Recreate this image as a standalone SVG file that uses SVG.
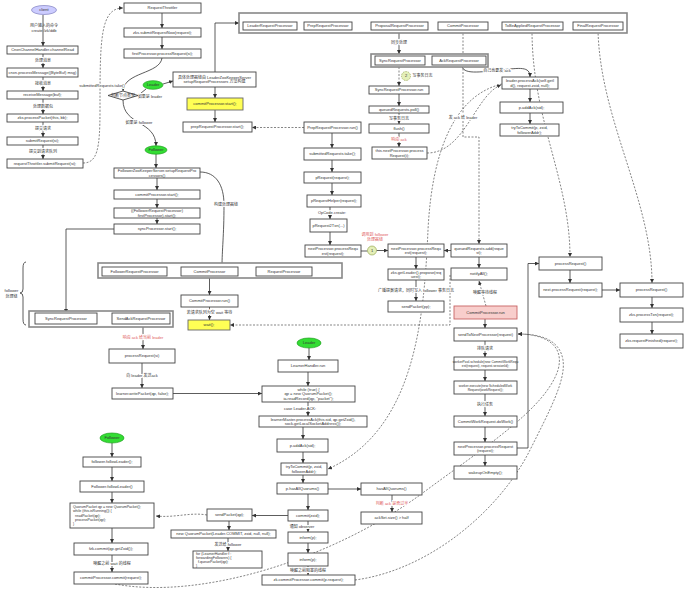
<svg xmlns="http://www.w3.org/2000/svg" width="692" height="596" viewBox="0 0 692 596">
<defs>
<marker id="a" viewBox="0 0 6 6" refX="6" refY="3" markerWidth="4" markerHeight="4" orient="auto" markerUnits="userSpaceOnUse"><path d="M0,0 L6,3 L0,6 z" fill="#333"/></marker>
<style>
.b{fill:#fff;stroke:#444;stroke-width:.9}
.o{fill:#fff;stroke:#888;stroke-width:1.6}
.y{fill:#ffff55;stroke:#666;stroke-width:.9}
.p{fill:#f8cecc;stroke:#c86464;stroke-width:.9}
.g{fill:#33dd33;stroke:#22a022;stroke-width:.7}
.v{fill:#ccccff;stroke:#7f7fbf;stroke-width:.7}
.k{fill:#e4efb8;stroke:#8a9a40;stroke-width:.6}
text{font-family:"Liberation Sans","Noto Sans CJK SC",sans-serif;font-size:4px;fill:#333;text-anchor:middle}
.s{font-size:3.3px}
.m{font-size:3.6px}
.lt{text-anchor:start}
.h{paint-order:stroke;stroke:#fff;stroke-width:2px;stroke-linejoin:round}
.r{fill:#e05a5a}
.c{fill:none;stroke:#333;stroke-width:.8;marker-end:url(#a)}
.n{fill:none;stroke:#333;stroke-width:.8}
.d{fill:none;stroke:#333;stroke-width:.6;stroke-dasharray:2 1.5;marker-end:url(#a)}
.dn{fill:none;stroke:#333;stroke-width:.6;stroke-dasharray:2 1.5}
</style>
</defs>
<rect width="692" height="596" fill="#fff"/>

<g id="connectors">
<path class="c" d="M43,15 V46"/>
<path class="c" d="M43,54 V68"/>
<path class="c" d="M43,77 V91"/>
<path class="c" d="M43,99 V114"/>
<path class="c" d="M43,122 V137"/>
<path class="c" d="M43,145 V159"/>
<path class="d" d="M83,163 C97,163 100,150 100,110 C100,40 100,8 123,8"/>
<path class="c" d="M162,13 V28"/>
<path class="c" d="M162,37 V49"/>
<path class="c" d="M162,58 C160,74 124,72 123,91"/>
<path class="n" d="M138,95.5 L146,89"/>
<path class="c" d="M163,84 L173,81"/>
<path class="c" d="M123,100 C123,126 156,120 156,146"/>
<path class="c" d="M156,154 V168"/>
<path class="c" d="M215,72 V23 H239"/>
<path class="c" d="M215,87 V98"/>
<path class="c" d="M215,110 V122"/>
<path class="d" d="M304,127.5 H252"/>
<path class="c" d="M157,178 V190"/>
<path class="c" d="M157,199 V208"/>
<path class="c" d="M157,218 V224"/>
<path class="c" d="M114,229 H66 V313"/>
<path class="c" d="M200,172 C216,172 224,185 224,205 C224,235 222,250 222,267"/>
<path class="c" d="M167,271.5 H181"/>
<path class="c" d="M238,271.5 H256"/>
<path class="c" d="M209.5,276 V295"/>
<path class="c" d="M209.5,307 V320"/>
<path class="d" d="M450,275 V325 H230"/>
<path class="c" d="M97,318.5 H112"/>
<path class="c" d="M143,327 V349"/>
<path class="c" d="M142,363 V388"/>
<path class="c" d="M173,393.5 H262"/>
<path class="c" d="M309,348 V360"/>
<path class="c" d="M308,372 V386"/>
<path class="c" d="M308,402 V416"/>
<path class="c" d="M303,427 V439"/>
<path class="c" d="M303,452 V463"/>
<path class="c" d="M303,475 V483"/>
<path class="c" d="M328,489 H361"/>
<path class="c" d="M392,495 V512"/>
<path class="c" d="M308,494 V510"/>
<path class="c" d="M288,515.5 H252"/>
<path class="c" d="M229,521 V530"/>
<path class="c" d="M228,538 V551"/>
<path class="c" d="M308,521 V532"/>
<path class="c" d="M308,543 V553"/>
<path class="c" d="M308,566 V575"/>
<path class="d" d="M207,515 C190,512 175,518 156,516"/>
<path class="c" d="M112,443 V457"/>
<path class="c" d="M112,467 V481"/>
<path class="c" d="M112,492 V503"/>
<path class="c" d="M112,528 V543"/>
<path class="c" d="M112,555 V572"/>
<path class="d" d="M115,584 C200,600 330,560 420,495 C480,450 545,410 558,370 C565,345 545,334 518,334"/>
<path class="d" d="M355,580 C430,570 500,510 530,450 C550,410 566,380 563,360 C560,342 545,334 518,334"/>
<path class="c" d="M297,26 H304"/>
<path class="c" d="M352,26 H371"/>
<path class="c" d="M428,26 H438"/>
<path class="c" d="M488,26 H502"/>
<path class="c" d="M563,26 H573"/>
<path class="c" d="M399,30 V54"/>
<path class="c" d="M425,60.5 H432"/>
<path class="d" d="M399,67 V86"/>
<path class="c" d="M399,94 V106"/>
<path class="c" d="M399,113 V124"/>
<path class="c" d="M399,133 V147"/>
<path class="d" d="M427,153 C465,153 475,95 501,85"/>
<path class="d" d="M502,84 C455,95 432,150 428,230 C424,320 415,430 328,469"/>
<path class="c" d="M462,65 C462,75 480,72 500,70 C520,68 530,66 530,77"/>
<path class="c" d="M530,89 V102"/>
<path class="c" d="M530,113 V124"/>
<path class="d" d="M463,30 V137 H479 V244"/>
<path class="c" d="M332,133 V148"/>
<path class="c" d="M332,160 V172"/>
<path class="c" d="M332,183 V195"/>
<path class="c" d="M330,207 V219"/>
<path class="c" d="M330,232 V245"/>
<path class="n" d="M361,251 H367.5"/>
<path class="c" d="M376.5,250.5 H388"/>
<path class="c" d="M451,250.5 H444"/>
<path class="c" d="M416,257 V269"/>
<path class="c" d="M416,280 V301"/>
<path class="c" d="M479,257 V268"/>
<path class="d" d="M486,306 L479,281"/>
<path class="c" d="M485,319 V328"/>
<path class="c" d="M485,341 V357"/>
<path class="c" d="M485,370 V381"/>
<path class="c" d="M485,394 V416"/>
<path class="c" d="M485,427 V442"/>
<path class="c" d="M485,455 V466"/>
<path class="c" d="M517,448 H528 V263.5 H539"/>
<path class="d" d="M532,30 C532,120 570,180 570,257"/>
<path class="d" d="M598,30 C600,120 652,200 652,283"/>
<path class="c" d="M570,270 V283"/>
<path class="c" d="M602,290 H620"/>
<path class="c" d="M652,297 V308"/>
<path class="c" d="M652,322 V334"/>
</g>

<g id="labels">
<text x="44" y="27">用户输入的命令</text>
<text x="44" y="32">create /zk/ddb</text>
<text class="h" x="43" y="62.4">处理消息</text>
<text class="h" x="43" y="85.4">接收消息</text>
<text class="h" x="43" y="107.9">处理数据包</text>
<text class="h" x="43" y="130.4">提交请求</text>
<text class="h" x="43" y="153.4">提交到请求队列</text>
<text class="h" x="102" y="87.4">submittedRequests.take()</text>
<text class="h" x="150" y="98.4">如果是 leader</text>
<text class="h" x="139" y="124.4">如果是 follower</text>
<text class="h" x="226" y="206.4">构建处理器链</text>
<text class="h" x="209.5" y="314.4">若请求队列为空 wait 等待</text>
<text x="11.5" y="292">follower</text>
<text x="11.5" y="297.5">处理链</text>
<text class="h r" x="143" y="338.9">响应 ack 给当前 leader</text>
<text class="h" x="142" y="377.4">向 leader 发送ack</text>
<text class="h" x="300" y="410.4">case Leader.ACK:</text>
<text class="h r" x="392" y="505.4">判断 ack 是否过半</text>
<text class="h" x="228" y="545.9">发送给 follower</text>
<text class="h" x="302" y="527.9">通知 observer</text>
<text class="h" x="308" y="571.9">唤醒之前阻塞的线程</text>
<text class="h" x="112" y="564.9">唤醒之前 wait 的线程</text>
<text x="330" y="18.9">处理器链</text>
<text class="h" x="399" y="44.4">同步处理</text>
<text class="lt" x="412.5" y="77.4">写事务日志</text>
<text class="h" x="399" y="119.9">写事务日志</text>
<text class="h r" x="399" y="141.4">响应 ack</text>
<text class="h" x="497" y="72.4">自己也要发 ack</text>
<text class="h" x="463" y="119.4">发 ack 给 leader</text>
<text class="h" x="332" y="214.4">OpCode.create:</text>
<text class="r" x="375" y="236.4">调用到 follower</text>
<text class="r" x="375" y="240.8">处理器链</text>
<text class="h" x="416" y="292.4">广播提案请求，同时写入 follower 事务日志</text>
<text class="h" x="485" y="294.4">唤醒等待线程</text>
<text class="h" x="485" y="350.4">排队请求</text>
<text class="h" x="485" y="406.4">执行任务</text>
</g>

<g id="client"><ellipse class="v" cx="44" cy="10" rx="12.5" ry="4.5"/><text x="44" y="11.4">client</text></g>
<g id="n1"><rect class="b" x="7" y="46" width="71" height="8"/><text x="42.5" y="51.4">CnxnChannelHandler.channelRead</text></g>
<g id="n2"><rect class="b" x="7" y="68" width="71" height="9"/><text x="42.5" y="73.9">cnxn.processMessage((ByteBuf) msg)</text></g>
<g id="n3"><rect class="b" x="7" y="91" width="71" height="8"/><text x="42.5" y="96.4">receiveMessage(buf);</text></g>
<g id="n4"><rect class="b" x="7" y="114" width="71" height="8"/><text x="42.5" y="119.4">zks.processPacket(this, bb);</text></g>
<g id="n5"><rect class="b" x="7" y="137" width="71" height="8"/><text x="42.5" y="142.4">submitRequest(si);</text></g>
<g id="n6"><rect class="b" x="7" y="159" width="76" height="9"/><text x="45" y="164.9">requestThrottler.submitRequest(si);</text></g>

<g id="throttler"><rect class="b" x="124" y="3" width="77" height="10"/><text x="162.5" y="9.4">RequestThrottler</text></g>
<g id="submitNow"><rect class="b" x="124" y="28" width="77" height="9"/><text x="162.5" y="33.9">zks.submitRequestNow(request);</text></g>
<g id="firstProc"><rect class="b" x="124" y="49" width="77" height="9"/><text x="162.5" y="54.9">firstProcessor.processRequest(si);</text></g>
<g id="diamond"><polygon class="b" points="108,95.5 123,91 138,95.5 123,100"/><text x="123" y="96.9">判断节点类型</text></g>
<g id="leaderTop"><ellipse class="g" cx="153" cy="85" rx="10" ry="4.3"/><text x="153" y="86.4">Leader</text></g>
<g id="leaderSetup"><rect class="b" x="173" y="72" width="83" height="15"/><text x="214.5" y="78.8">具体处理器链由 LeaderZooKeeperServer</text><text x="214.5" y="83">setupRequestProcessors 方法构建</text></g>
<g id="commitStart"><rect class="y" x="187" y="98" width="56" height="12"/><text x="215" y="105.4">commitProcessor.start();</text></g>
<g id="prepStart"><rect class="b" x="183" y="122" width="69" height="10"/><text x="217.5" y="128.4">prepRequestProcessor.start();</text></g>

<g id="followerTop"><ellipse class="g" cx="156" cy="150" rx="11" ry="4.2"/><text x="156" y="151.4">Follower</text></g>
<g id="fSetup"><rect class="b" x="114" y="168" width="86" height="10"/><text x="157" y="172.3">FollowerZooKeeperServer.setupRequestPro</text><text x="157" y="176.5">cessors()</text></g>
<g id="fCommitStart"><rect class="b" x="114" y="190" width="86" height="9"/><text x="157" y="195.9">commitProcessor.start();</text></g>
<g id="fFirstStart"><rect class="b" x="114" y="208" width="86" height="10"/><text x="157" y="212.3">((FollowerRequestProcessor)</text><text x="157" y="216.5">firstProcessor).start();</text></g>
<g id="fSyncStart"><rect class="b" x="114" y="224" width="86" height="10"/><text x="157" y="230.4">syncProcessor.start();</text></g>

<g id="fChain"><rect class="o" x="98" y="263" width="244" height="15"/>
<rect class="b" x="102" y="267" width="65" height="9"/><text x="134.5" y="272.9">FollowerRequestProcessor</text>
<rect class="b" x="181" y="267" width="57" height="9"/><text x="209.5" y="272.9">CommitProcessor</text>
<rect class="b" x="256" y="267" width="56" height="9"/><text x="284" y="272.9">RequestProcessor</text></g>
<g id="fCommitRun"><rect class="b" x="181" y="295" width="57" height="12"/><text x="209.5" y="302.4">CommitProcessor.run()</text></g>
<g id="fWait"><rect class="y" x="188" y="320" width="42" height="10"/><text x="209" y="326.4">wait();</text></g>

<g id="brace"><path class="n" d="M26,262 Q23,262 23,268 L23,289 Q23,293 20,293 Q23,293 23,297 L23,319 Q23,325 26,325"/></g>
<g id="fSyncChain"><rect class="o" x="29" y="311" width="144" height="16"/>
<rect class="b" x="35" y="313" width="62" height="11"/><text x="66" y="319.9">SyncRequestProcessor</text>
<rect class="b" x="112" y="313" width="58" height="11"/><text x="141" y="319.9">SendAckRequestProcessor</text></g>
<g id="sendAckProc"><rect class="b" x="109" y="349" width="66" height="14"/><text x="142" y="357.4">processRequest(si)</text></g>
<g id="writePacket"><rect class="b" x="112" y="388" width="61" height="11"/><text x="142.5" y="394.9">learner.writePacket(qp, false);</text></g>

<g id="leaderMid"><ellipse class="g" cx="309" cy="343" rx="12" ry="5"/><text x="309" y="344.4">Leader</text></g>
<g id="lhRun"><rect class="b" x="278" y="360" width="60" height="12"/><text x="308" y="367.4">LearnerHandler.run</text></g>
<g id="lhLoop"><rect class="b" x="262" y="386" width="93" height="16"/><text x="308.5" y="391.2">while (true) {</text><text x="308.5" y="395.4">qp = new QuorumPacket();</text><text x="308.5" y="399.6">ia.readRecord(qp, "packet");</text></g>
<g id="processAck"><rect class="b" x="259" y="416" width="108" height="11"/><text x="313" y="420.8">learnerMaster.processAck(this.sid, qp.getZxid(),</text><text x="313" y="425">sock.getLocalSocketAddress());</text></g>
<g id="addAck"><rect class="b" x="277" y="439" width="51" height="13"/><text x="302.5" y="446.9">p.addAck(sid);</text></g>
<g id="tryCommit"><rect class="b" x="281" y="463" width="46" height="12"/><text x="304" y="468.3">tryToCommit(p, zxid,</text><text x="304" y="472.5">followerAddr);</text></g>
<g id="hasQuorum"><rect class="b" x="277" y="483" width="51" height="11"/><text x="302.5" y="489.9">p.hasAllQuorums()</text></g>
<g id="hasQuorum2"><rect class="b" x="361" y="483" width="61" height="12"/><text x="391.5" y="490.4">hasAllQuorums()</text></g>
<g id="half"><rect class="b" x="361" y="512" width="61" height="12"/><text x="391.5" y="519.4">ackSet.size() &gt; half</text></g>
<g id="commitZxid"><rect class="b" x="288" y="510" width="40" height="11"/><text x="308" y="516.9">commit(zxid);</text></g>
<g id="sendPacketL"><rect class="b" x="207" y="509" width="45" height="12"/><text x="229.5" y="516.4">sendPacket(qp);</text></g>
<g id="newQp"><rect class="b" x="171" y="530" width="105" height="8"/><text x="223.5" y="535.4">new QuorumPacket(Leader.COMMIT, zxid, null, null);</text></g>
<g id="forLoop"><rect class="b" x="193" y="551" width="69" height="17"/><text class="m lt" x="196" y="555.2">for (LearnerHandler f :</text><text class="m lt" x="196" y="559.1">forwardingFollowers) {</text><text class="m lt" x="198" y="563">f.queuePacket(qp);</text><text class="m lt" x="196" y="566.9">}</text></g>
<g id="inform"><rect class="b" x="288" y="532" width="40" height="11"/><text x="308" y="538.9">inform(p);</text></g>
<g id="inform2"><rect class="b" x="288" y="553" width="40" height="13"/><text x="308" y="560.9">inform(p);</text></g>
<g id="zkCommit"><rect class="b" x="262" y="575" width="93" height="10"/><text x="308.5" y="581.4">zk.commitProcessor.commit(p.request);</text></g>

<g id="followerBot"><ellipse class="g" cx="112" cy="438" rx="12" ry="5"/><text x="112" y="439.4">Follower</text></g>
<g id="followLeader1"><rect class="b" x="83" y="457" width="58" height="10"/><text x="112" y="463.4">follower.followLeader();</text></g>
<g id="followLeader2"><rect class="b" x="80" y="481" width="64" height="11"/><text x="112" y="487.9">Follower.followLeader()</text></g>
<g id="fLoop"><rect class="b" x="70" y="503" width="84" height="25"/><text class="m lt" x="73" y="507.8">QuorumPacket qp = new QuorumPacket();</text><text class="m lt" x="73" y="512.2">while (this.isRunning()) {</text><text class="m lt" x="75" y="516.6">readPacket(qp);</text><text class="m lt" x="75" y="521">processPacket(qp);</text><text class="m lt" x="73" y="525.4">}</text></g>
<g id="fzkCommit"><rect class="b" x="74" y="543" width="74" height="12"/><text x="111" y="550.4">fzk.commit(qp.getZxid());</text></g>
<g id="fCommit"><rect class="b" x="74" y="572" width="74" height="12"/><text x="111" y="579.4">commitProcessor.commit(request);</text></g>

<g id="lChain"><rect class="o" x="239" y="13" width="388" height="20"/>
<rect class="b" x="243" y="22" width="54" height="8"/><text x="270" y="27.4">LeaderRequestProcessor</text>
<rect class="b" x="304" y="22" width="48" height="8"/><text x="328" y="27.4">PrepRequestProcessor</text>
<rect class="b" x="371" y="22" width="57" height="8"/><text x="399.5" y="27.4">ProposalRequestProcessor</text>
<rect class="b" x="438" y="22" width="50" height="8"/><text x="463" y="27.4">CommitProcessor</text>
<rect class="b" x="502" y="22" width="61" height="8"/><text x="532.5" y="27.4">ToBeAppliedRequestProcessor</text>
<rect class="b" x="573" y="22" width="50" height="8"/><text x="598" y="27.4">FinalRequestProcessor</text></g>
<g id="syncAck"><rect class="o" x="371" y="54" width="117" height="13"/>
<rect class="b" x="375" y="56" width="50" height="9"/><text x="400" y="61.9">SyncRequestProcessor</text>
<rect class="b" x="432" y="56" width="54" height="9"/><text x="459" y="61.9">AckRequestProcessor</text></g>
<g id="c2"><circle class="k" cx="406" cy="76" r="4.5" stroke-dasharray="1.5 1"/><text x="406" y="77.4">2</text></g>
<g id="syncRun"><rect class="b" x="369" y="86" width="60" height="8"/><text x="399" y="91.4">SyncRequestProcessor.run</text></g>
<g id="poll"><rect class="b" x="369" y="106" width="60" height="7"/><text x="399" y="110.9">queuedRequests.poll()</text></g>
<g id="flush"><rect class="b" x="369" y="124" width="60" height="9"/><text x="399" y="129.9">flush()</text></g>
<g id="syncNext"><rect class="b" x="372" y="147" width="55" height="12"/><text x="399.5" y="152.3">this.nextProcessor.process</text><text x="399.5" y="156.5">Request(i);</text></g>
<g id="leaderProcessAck"><rect class="b" x="502" y="77" width="56" height="12"/><text x="530" y="82.3">leader.processAck(self.getI</text><text x="530" y="86.5">d(), request.zxid, null);</text></g>
<g id="addAck2"><rect class="b" x="500" y="102" width="63" height="11"/><text x="531.5" y="108.9">p.addAck(sid);</text></g>
<g id="tryCommit2"><rect class="b" x="500" y="124" width="59" height="12"/><text x="529.5" y="129.3">tryToCommit(p, zxid,</text><text x="529.5" y="133.5">followerAddr);</text></g>

<g id="prepRun"><rect class="b" x="304" y="122" width="57" height="11"/><text x="332.5" y="128.9">PrepRequestProcessor.run()</text></g>
<g id="take"><rect class="b" x="304" y="148" width="57" height="12"/><text x="332.5" y="155.4">submittedRequests.take();</text></g>
<g id="pRequest"><rect class="b" x="304" y="172" width="57" height="11"/><text x="332.5" y="178.9">pRequest(request);</text></g>
<g id="pHelper"><rect class="b" x="307" y="195" width="54" height="12"/><text x="334" y="202.4">pRequestHelper(request);</text></g>
<g id="p2txn"><rect class="b" x="310" y="219" width="37" height="13"/><text x="328.5" y="226.9">pRequest2Txn(...)</text></g>
<g id="prepNext"><rect class="b" x="305" y="245" width="56" height="12"/><text x="333" y="250.3">nextProcessor.processRequ</text><text x="333" y="254.5">est(request);</text></g>
<g id="c1"><circle class="k" cx="372" cy="250.5" r="4.5"/><text x="372" y="251.9">1</text></g>
<g id="propNext"><rect class="b" x="388" y="244" width="56" height="13"/><text x="416" y="249.8">nextProcessor.processRequ</text><text x="416" y="254">est(request);</text></g>
<g id="propose"><rect class="b" x="388" y="269" width="56" height="11"/><text x="416" y="273.8">zks.getLeader().propose(req</text><text x="416" y="278">uest);</text></g>
<g id="sendPacketP"><rect class="b" x="388" y="301" width="56" height="11"/><text x="416" y="307.9">sendPacket(pp);</text></g>

<g id="queuedAdd"><rect class="b" x="451" y="244" width="56" height="13"/><text x="479" y="249.8">queuedRequests.add(reque</text><text x="479" y="254">st);</text></g>
<g id="notify"><rect class="b" x="451" y="268" width="56" height="12"/><text x="479" y="275.4">notifyAll();</text></g>
<g id="commitRun"><rect class="p" x="454" y="306" width="63" height="13"/><text x="485.5" y="313.9">CommitProcessor.run</text></g>
<g id="sendNext"><rect class="b" x="454" y="328" width="63" height="13"/><text x="485.5" y="335.9">sendToNextProcessor(request)</text></g>
<g id="schedule"><rect class="b" x="454" y="357" width="63" height="13"/><text class="s" x="485.5" y="362.9">workerPool.schedule(new CommitWorkRequ</text><text class="s" x="485.5" y="366.7">est(request), request.sessionId);</text></g>
<g id="execute"><rect class="b" x="454" y="381" width="63" height="13"/><text class="s" x="485.5" y="386.9">worker.execute(new ScheduledWork</text><text class="s" x="485.5" y="390.7">Request(workRequest));</text></g>
<g id="doWork"><rect class="b" x="454" y="416" width="63" height="11"/><text x="485.5" y="422.9">CommitWorkRequest.doWork()</text></g>
<g id="cNext"><rect class="b" x="454" y="442" width="63" height="13"/><text x="485.5" y="447.8">nextProcessor.processRequest</text><text x="485.5" y="452">(request);</text></g>
<g id="wakeup"><rect class="b" x="454" y="466" width="63" height="13"/><text x="485.5" y="473.9">wakeupOnEmpty();</text></g>

<g id="tbaProc"><rect class="b" x="539" y="257" width="63" height="13"/><text x="570.5" y="264.9">processRequest()</text></g>
<g id="tbaNext"><rect class="b" x="539" y="283" width="63" height="14"/><text x="570.5" y="291.4">next.processRequest(request);</text></g>
<g id="finalProc"><rect class="b" x="620" y="283" width="63" height="14"/><text x="651.5" y="291.4">processRequest()</text></g>
<g id="processTxn"><rect class="b" x="620" y="308" width="63" height="14"/><text x="651.5" y="316.4">zks.processTxn(request);</text></g>
<g id="finished"><rect class="b" x="620" y="334" width="63" height="14"/><text x="651.5" y="342.4">zks.requestFinished(request);</text></g>
</svg>
